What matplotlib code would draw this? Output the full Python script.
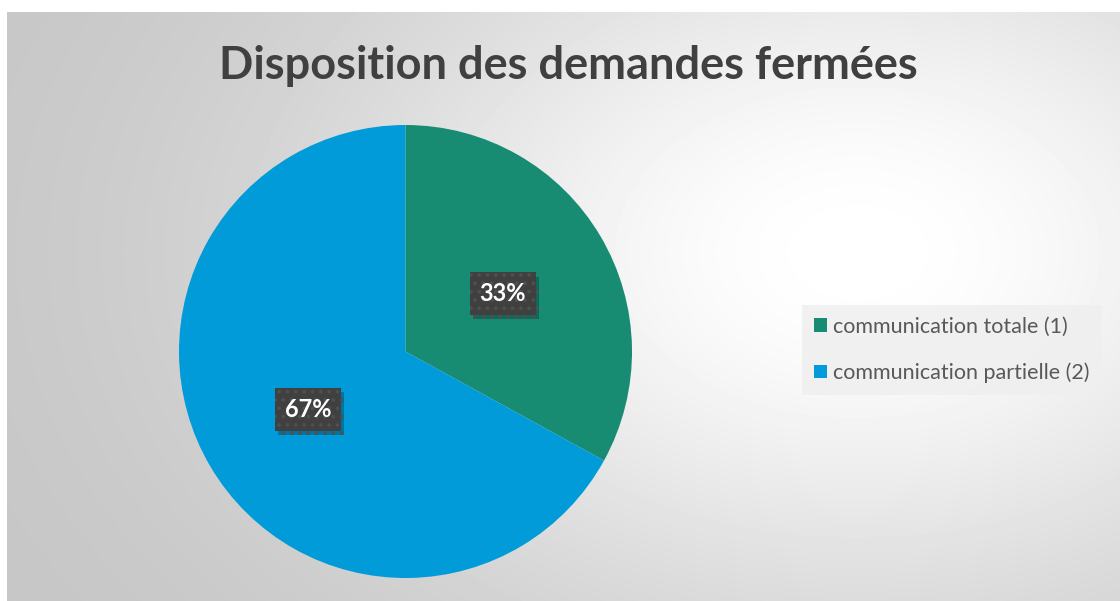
import numpy as np
import matplotlib.pyplot as plt
from matplotlib.patches import Patch
import matplotlib.patheffects as pe

plt.rcParams['font.family'] = ['Lato', 'DejaVu Sans']
plt.rcParams['hatch.linewidth'] = 1.5

title = 'Disposition des demandes fermées'
labels = ['communication totale (1)', 'communication partielle (2)']
values = [33, 67]
colors = ['#178c73', '#009bd8']

W, H = 1120, 601
fig = plt.figure(figsize=(W / 100, H / 100), dpi=100)
fig.patch.set_facecolor('white')

# background: soft radial gradient (light right of centre, grey at the edges)
bg = fig.add_axes([7 / W, 0, 1 - 7 / W, 1 - 12 / H])
yy, xx = np.mgrid[0:589, 0:1113]
d = np.hypot((xx - 850) / 820.0, (yy - 240) / 560.0)
g = 0.77 + 0.23 * np.exp(-(d / 0.65) ** 2)
bg.imshow(g, cmap='gray', vmin=0, vmax=1, aspect='auto', interpolation='bilinear')
bg.set_axis_off()

# pie
ax = fig.add_axes([179 / W, 23 / H, 453 / W, 453 / H])
wedges, texts, autotexts = ax.pie(values, colors=colors, startangle=90,
                                  counterclock=False, autopct='%1.0f%%',
                                  pctdistance=0.5, radius=1,
                                  wedgeprops=dict(linewidth=0))
ax.set_xlim(-1, 1)
ax.set_ylim(-1, 1)
for t in autotexts:
    t.set_color('white')
    t.set_fontsize(17)
    t.set_fontweight('bold')
    t.set_bbox(dict(boxstyle='square,pad=0.42', fc='#404040', ec='#4f4f4f',
                    lw=0, hatch='..'))
    t.get_bbox_patch().set_path_effects([
        pe.SimplePatchShadow(offset=(2, -3), alpha=0.25, shadow_rgbFace='black'),
        pe.Normal()])

fig.text(568 / W, 1 - 66 / H, title, ha='center', va='center',
         fontsize=32.5, fontweight='bold', color='#404040')

handles = [Patch(facecolor=c, edgecolor='none') for c in colors]
leg = fig.legend(handles, labels, loc='center left',
                 bbox_to_anchor=(802 / W, 1 - 350 / H), frameon=True,
                 fontsize=15.5, handlelength=0.6, handleheight=0.6,
                 handletextpad=0.3, labelspacing=1.2, borderpad=0.55,
                 borderaxespad=0, labelcolor='#595959')
leg.get_frame().set_facecolor('#efefef')
leg.get_frame().set_edgecolor('none')
leg.get_frame().set_alpha(0.85)
leg.get_frame().set_boxstyle('square', pad=0)

fig.savefig('out.png', dpi=100)
